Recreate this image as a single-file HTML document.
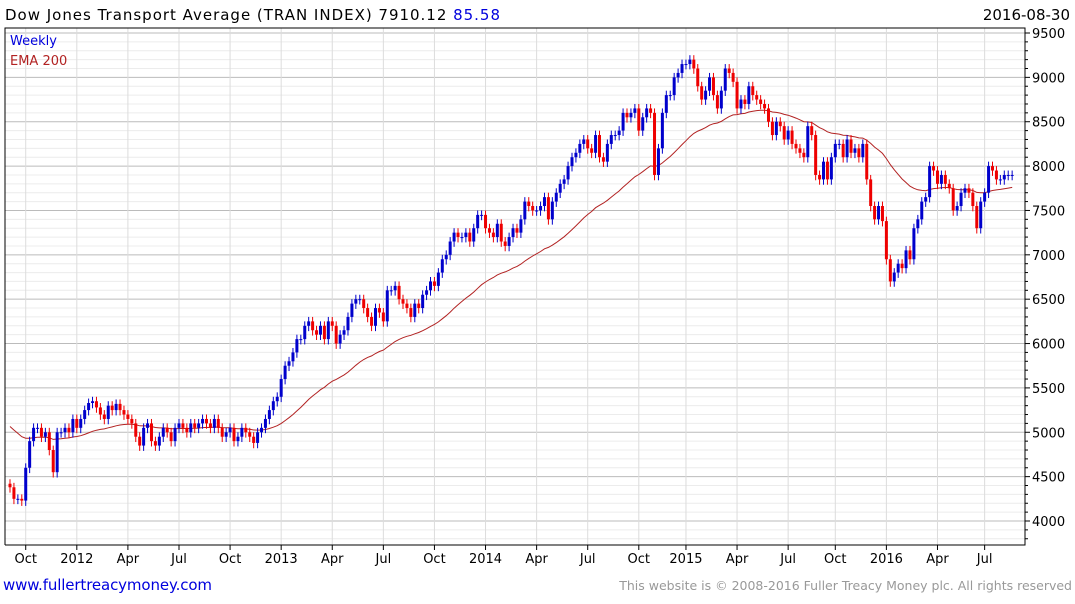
<!DOCTYPE html>
<html><head><meta charset="utf-8">
<style>
html,body{margin:0;padding:0;background:#fff;}
body{width:1075px;height:600px;overflow:hidden;font-family:"DejaVu Sans",sans-serif;}
svg text{font-family:"DejaVu Sans","Liberation Sans",sans-serif;}
</style></head>
<body>
<svg id="chart" width="1075" height="600" xmlns="http://www.w3.org/2000/svg">
<text x="5" y="20" font-size="15" fill="#000" textLength="495">Dow Jones Transport Average (TRAN INDEX) 7910.12 <tspan fill="#0000dd">85.58</tspan></text>
<text x="1070" y="20" font-size="15" fill="#000" text-anchor="end">2016-08-30</text>
<g id="grid"></g>
<g id="ema"></g>
<g id="candles"></g>
<g id="axes"></g>
<text x="10" y="45" font-size="13" fill="#0000dd">Weekly</text>
<text x="10" y="65" font-size="13" fill="#b22222">EMA 200</text>
<text x="3" y="590" font-size="15" fill="#0000dd" textLength="209">www.fullertreacymoney.com</text>
<text x="1072" y="590" font-size="12.5" fill="#999" text-anchor="end">This website is © 2008-2016 Fuller Treacy Money plc. All rights reserved</text>
</svg>
<script>
const closes = [4380,4250,4250,4230,4600,4900,5050,5050,4950,5000,4800,4550,5000,5000,5050,5000,5150,
5050,5150,5250,5330,5350,5280,5200,5150,5300,5250,5320,5250,5200,
5150,5100,4950,4850,5050,5100,4900,4850,4950,5050,5000,4900,5050,
5100,5050,5000,5100,5050,5100,5150,5100,5050,5150,5050,4950,5000,
5050,4900,4950,5050,5000,4950,4880,5000,5050,5150,5250,5350,5400,
5600,5750,5800,5900,6050,6050,6200,6250,6150,6100,6200,6050,6250,
6200,6000,6100,6150,6300,6450,6500,6500,6400,6300,6200,6400,6350,
6250,6600,6600,6650,6500,6450,6400,6300,6450,6400,6550,6600,6700,
6650,6800,6950,7000,7150,7250,7200,7200,7250,7150,7300,7450,7450,
7300,7250,7200,7350,7150,7100,7200,7300,7250,7400,7600,7550,7500,
7500,7550,7650,7400,7600,7700,7800,7850,8000,8100,8150,8250,8300,
8200,8150,8350,8100,8050,8250,8350,8350,8400,8600,8550,8600,8650,
8400,8550,8650,8600,7900,8200,8600,8800,8800,9000,9050,9150,9150,
9200,9100,8900,8750,8850,9000,8800,8650,8850,9100,9050,8950,
8650,8750,8700,8900,8800,8750,8700,8650,8500,8350,8500,8450,8300,
8400,8250,8200,8150,8100,8450,8350,7900,7850,8050,7850,8100,
8250,8250,8100,8300,8150,8200,8100,8250,7850,7550,7400,7550,
7380,6950,6700,6800,6900,6850,7050,6950,7300,7400,7600,7650,8000,
7950,7800,7900,7800,7750,7500,7550,7700,7750,7700,7550,7300,7600,
7700,8000,7950,7850,7850,7900,7900,7900];
const firstOpen = 4420;
const emaSeed = 5100;
const emaPeriodWeeks = 40;
const yTicks = [4000,4500,5000,5500,6000,6500,7000,7500,8000,8500,9000,9500];
const xTickLabels = ["Oct","2012","Apr","Jul","Oct","2013","Apr","Jul","Oct","2014","Apr","Jul","Oct","2015","Apr","Jul","Oct","2016","Apr","Jul"];
const xTickWeeks = [4,17,30,43,56,69,82,95,108,121,134,147,160,172,185,198,210,223,236,248];

const NS="http://www.w3.org/2000/svg";
const L=5,R=1025,T=28,B=545;
const x=i=>10+i*3.93;
const y=v=>521-(v-4000)*(488/5500);
function mk(tag,attrs,parent){const e=document.createElementNS(NS,tag);for(const k in attrs)e.setAttribute(k,attrs[k]);parent.appendChild(e);return e;}
const grid=document.getElementById('grid'),axes=document.getElementById('axes'),cg=document.getElementById('candles'),eg=document.getElementById('ema');
for(let v=3800;v<=9600;v+=100){
  const yy=y(v); if(yy<T||yy>B)continue;
  const major=v%500===0;
  const ln=mk('line',{x1:L,x2:R,y1:yy,y2:yy,stroke:major?'#bbb':'#ececec','stroke-width':1},grid);
  
  
  const tk=mk('line',{x1:R,x2:R+(major?5:3),y1:yy,y2:yy,stroke:'#000'},axes);
  
  
}
yTicks.forEach(v=>{
  const t=mk('text',{x:1032,y:y(v)+5,'font-size':13,fill:'#000'},axes);t.textContent=v;
  
  
});
xTickWeeks.forEach((w,k)=>{
  const xx=x(w);
  const g=mk('line',{x1:xx,x2:xx,y1:T,y2:B,stroke:'#dcdcdc'},grid);
  
  
  const tk=mk('line',{x1:xx,x2:xx,y1:B,y2:B+5,stroke:'#000'},axes);
  
  
  const t=mk('text',{x:xx,y:563,'font-size':13,'text-anchor':'middle',fill:'#000'},axes);t.textContent=xTickLabels[k];
  
  
});
const fr=mk('path',{d:`M${L} ${B}V${T}H${R}V${B}H${L}`,fill:'none',stroke:'#000','stroke-width':1},axes);


let prev=firstOpen;
closes.forEach((c,i)=>{
  const o=prev; prev=c;
  const up=c>=o, col=up?'#0000cc':'#ee0000';
  const hi=Math.max(o,c)+50, lo=Math.min(o,c)-60;
  const xx=x(i);
  const w=mk('line',{x1:xx,x2:xx,y1:y(hi),y2:y(lo),stroke:col,'stroke-width':1},cg);
  
  
  const top=y(Math.max(o,c)),h=Math.max(1,y(Math.min(o,c))-top);
  const b=mk('rect',{x:xx-1.5,y:top,width:3,height:h,fill:col},cg);
  
  
});
let e=emaSeed;const a=2/(emaPeriodWeeks+1);let d='';
closes.forEach((c,i)=>{e=e+a*(c-e);d+=(i?'L':'M')+x(i).toFixed(1)+' '+y(e).toFixed(1);});
const p=mk('path',{d:d,fill:'none',stroke:'#b22222','stroke-width':1},eg);


</script>
</body></html>
